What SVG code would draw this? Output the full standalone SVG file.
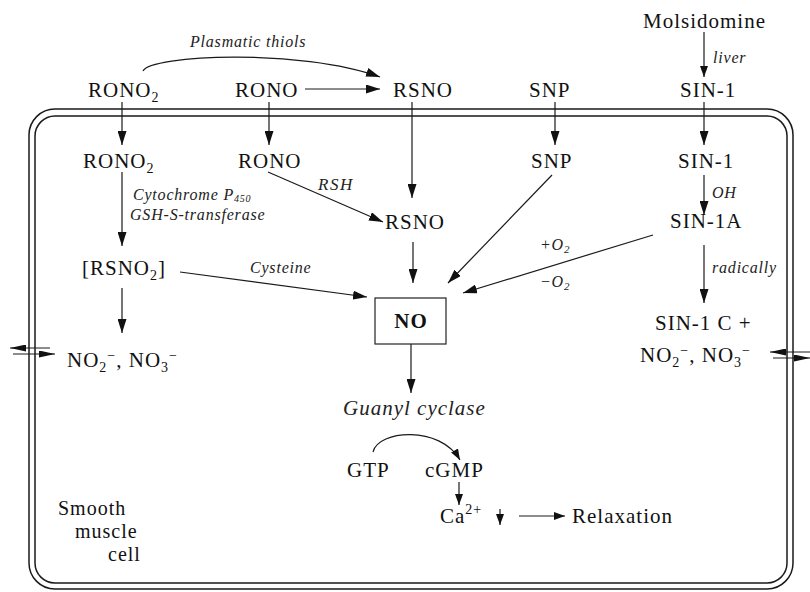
<svg xmlns="http://www.w3.org/2000/svg" width="810" height="592" viewBox="0 0 810 592">
<defs>
<marker id="ah" markerUnits="userSpaceOnUse" markerWidth="14" markerHeight="9" refX="14" refY="4.5" orient="auto"><path d="M0,0 L14,4.5 L0,9 z" fill="#111"/></marker>
<marker id="ahs" markerUnits="userSpaceOnUse" markerWidth="11" markerHeight="8" refX="11" refY="4" orient="auto"><path d="M0,0 L11,4 L0,8 z" fill="#111"/></marker>
<marker id="ahm" markerUnits="userSpaceOnUse" markerWidth="16" markerHeight="7" refX="16" refY="3.5" orient="auto"><path d="M0,0 L16,3.5 L0,7 z" fill="#111"/></marker>
</defs>
<style>
.t{font-family:"Liberation Serif","Times New Roman",serif;font-size:21px;fill:#111;letter-spacing:1px}
.i{font-family:"Liberation Serif","Times New Roman",serif;font-size:16px;font-style:italic;fill:#222;letter-spacing:0.8px}
.b{font-family:"Liberation Serif","Times New Roman",serif;font-size:21px;font-weight:bold;fill:#111;letter-spacing:1px}
.c{stroke:#1a1a1a;stroke-width:1.2;fill:none}
.a{marker-end:url(#ah)}
.s{marker-end:url(#ahs)}
.m{marker-end:url(#ahm)}
.mem{fill:none;stroke:#1a1a1a;stroke-width:1.5}
</style>
<rect width="810" height="592" fill="#fff"/>
<g id="membrane">
<rect class="mem" x="29" y="109" width="764" height="480" rx="26"/>
<rect class="mem" x="35" y="116" width="752" height="467" rx="20"/>
</g>
<g id="connectors">
<path class="c a" d="M143,71 C150,55 300,48 380,77"/>
<path class="c a" d="M305,89 L380,89"/>
<path class="c s" d="M704,32 L704,77"/>
<path class="c a" d="M122,102 L122,145"/>
<path class="c a" d="M269,102 L269,145"/>
<path class="c a" d="M412,102 L412,198"/>
<path class="c a" d="M555,102 L555,145"/>
<path class="c a" d="M704,102 L704,145"/>
<path class="c a" d="M122,172 L122,246"/>
<path class="c a" d="M268,172 L383,222"/>
<path class="c a" d="M180,272 L367,297"/>
<path class="c a" d="M413,242 L413,283"/>
<path class="c a" d="M552,175 L448,283"/>
<path class="c a" d="M653,235 L463,293"/>
<path class="c a" d="M122,288 L122,333"/>
<path class="c a" d="M704,175 L704,215"/>
<path class="c a" d="M704,245 L704,303"/>
<path class="c a" d="M411,344 L411,393"/>
<path class="c s" d="M373,452 C378,430 440,425 460,460"/>
<path class="c s" d="M459,482 L459,505"/>
<path class="c s" d="M500,509 L500,525"/>
<path class="c s" d="M519,516 L565,516"/>
<path class="c m" d="M50,348 L10,348"/>
<path class="c m" d="M13,354 L55,354"/>
<path class="c m" d="M810,352 L770,352"/>
<path class="c m" d="M773,358 L810,358"/>
</g>
<g id="label-plasmatic-thiols"><text class="i" x="190" y="47">Plasmatic thiols</text></g>
<g id="molsidomine"><text class="t" x="643" y="28">Molsidomine</text></g>
<g id="label-liver"><text class="i" x="713" y="63">liver</text></g>
<g id="rono2-out"><text class="t" x="88" y="97">RONO<tspan font-size="14" dy="5">2</tspan></text></g>
<g id="rono-out"><text class="t" x="235" y="97">RONO</text></g>
<g id="rsno-out"><text class="t" x="393" y="97">RSNO</text></g>
<g id="snp-out"><text class="t" x="529" y="97">SNP</text></g>
<g id="sin1-out"><text class="t" x="680" y="97">SIN-1</text></g>
<g id="rono2-in"><text class="t" x="83" y="168">RONO<tspan font-size="14" dy="5">2</tspan></text></g>
<g id="rono-in"><text class="t" x="238" y="168">RONO</text></g>
<g id="snp-in"><text class="t" x="531" y="168">SNP</text></g>
<g id="sin1-in"><text class="t" x="678" y="168">SIN-1</text></g>
<g id="label-cyt"><text class="i" x="133" y="200">Cytochrome P<tspan font-size="10" dy="2">450</tspan></text><text class="i" x="130" y="220">GSH-S-transferase</text></g>
<g id="label-rsh"><text class="i" x="318" y="190" style="font-size:17px;letter-spacing:1.5px">RSH</text></g>
<g id="label-oh"><text class="i" x="712" y="198">OH</text></g>
<g id="rsno-in"><text class="t" x="385" y="229">RSNO</text></g>
<g id="sin1a"><text class="t" x="670" y="228">SIN-1A</text></g>
<g id="label-plus-o2"><text class="i" x="540" y="250">+O<tspan font-size="11" dy="3">2</tspan></text></g>
<g id="label-minus-o2"><text class="i" x="540" y="287">−O<tspan font-size="11" dy="3">2</tspan></text></g>
<g id="rsno2"><text class="t" x="82" y="275">[RSNO<tspan font-size="14" dy="5">2</tspan><tspan dy="-5">]</tspan></text></g>
<g id="label-cysteine"><text class="i" x="250" y="273">Cysteine</text></g>
<g id="label-radically"><text class="i" x="712" y="273">radically</text></g>
<g id="no"><rect x="375" y="298" width="71" height="46" fill="#fff" stroke="#222" stroke-width="1.2"/><text class="b" x="411" y="328" text-anchor="middle">NO</text></g>
<g id="nitrite-left"><text class="t" x="67" y="367">NO<tspan font-size="14" dy="5">2</tspan><tspan font-size="14" dy="-12">−</tspan><tspan dy="7">, NO</tspan><tspan font-size="14" dy="5">3</tspan><tspan font-size="14" dy="-12">−</tspan></text></g>
<g id="sin1c"><text class="t" x="655" y="330">SIN-1 C +</text><text class="t" x="640" y="362">NO<tspan font-size="14" dy="5">2</tspan><tspan font-size="14" dy="-12">−</tspan><tspan dy="7">, NO</tspan><tspan font-size="14" dy="5">3</tspan><tspan font-size="14" dy="-12">−</tspan></text></g>
<g id="guanyl-cyclase"><text class="i" x="343" y="415" style="font-size:21px;letter-spacing:1px">Guanyl cyclase</text></g>
<g id="gtp"><text class="t" x="347" y="477">GTP</text></g>
<g id="cgmp"><text class="t" x="425" y="477">cGMP</text></g>
<g id="ca"><text class="t" x="440" y="523">Ca<tspan font-size="14" dy="-9">2+</tspan></text></g>
<g id="relaxation"><text class="t" x="572" y="523">Relaxation</text></g>
<g id="cell-label"><text class="t" x="58" y="515" style="font-size:20px">Smooth</text><text class="t" x="75" y="538" style="font-size:20px">muscle</text><text class="t" x="108" y="561" style="font-size:20px">cell</text></g>
</svg>
